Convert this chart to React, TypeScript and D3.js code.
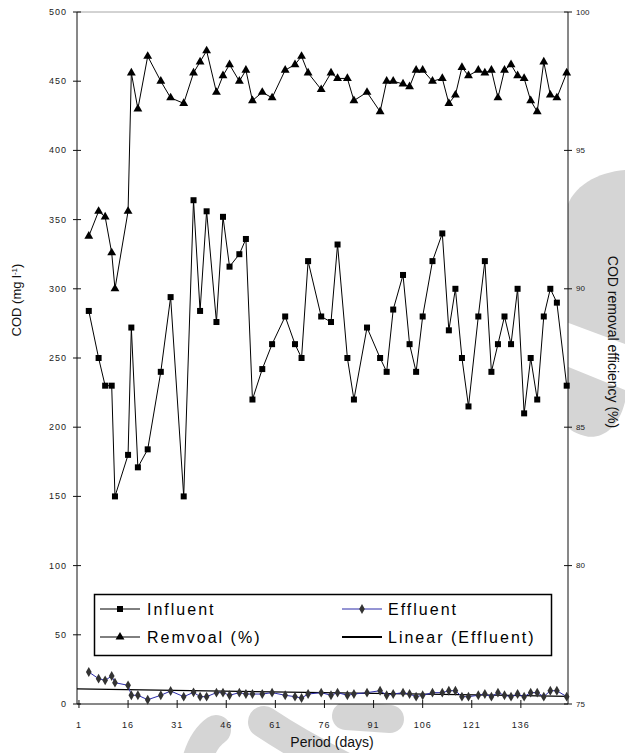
import React from "react";
import * as d3 from "d3";

const days = [4, 7, 9, 11, 12, 16, 17, 19, 22, 26, 29, 33, 36, 38, 40, 43, 45, 47, 50, 52,
  54, 57, 60, 64, 67, 69, 71, 75, 78, 80, 83, 85, 89, 93, 95, 97, 100, 102, 104, 106,
  109, 112, 114, 116, 118, 120, 123, 125, 127, 129, 131, 133, 135, 137, 139, 141, 143, 145, 147, 150];

const influent = [284, 250, 230, 230, 150, 180, 272, 171, 184, 240, 294, 150, 364, 284, 356, 276, 352, 316, 325, 336,
  220, 242, 260, 280, 260, 250, 320, 280, 276, 332, 250, 220, 272, 250, 240, 285, 310, 260, 240, 280,
  320, 340, 270, 300, 250, 215, 280, 320, 240, 260, 280, 260, 300, 210, 250, 220, 280, 300, 290, 230];

const effluent = [23.1, 18.3, 17.1, 20.2, 15.4, 13.5, 6.3, 6.3, 3.1, 6.3, 9.4, 5.3, 8.4, 5.3, 5.3, 8.2, 8.2, 6.3, 8.2, 7.2,
  7.2, 7.2, 8.2, 6.3, 5.3, 4.3, 7.2, 8.2, 6.3, 8.2, 6.3, 7.2, 8.2, 9.6, 6.3, 7.2, 8.2, 7.2, 5.3, 6.3,
  8.2, 8.2, 9.6, 9.6, 5.3, 5.3, 6.3, 7.2, 5.3, 8.2, 6.3, 5.3, 7.2, 5.3, 8.2, 8.2, 5.3, 9.6, 9.6, 5.3];

const removal = [91.9, 92.8, 92.6, 91.3, 90.0, 92.8, 97.8, 96.5, 98.4, 97.5, 96.9, 96.7, 97.8, 98.2, 98.6, 97.1, 97.7, 98.1, 97.5, 97.9,
  96.8, 97.1, 96.9, 97.9, 98.1, 98.4, 97.8, 97.2, 97.8, 97.6, 97.6, 96.8, 97.1, 96.4, 97.5, 97.5, 97.4, 97.3, 97.9, 97.9,
  97.5, 97.6, 96.7, 97.0, 98.0, 97.7, 97.9, 97.8, 97.9, 96.9, 97.9, 98.1, 97.7, 97.6, 96.8, 96.4, 98.2, 97.0, 96.9, 97.8];

const codTicks = [0, 50, 100, 150, 200, 250, 300, 350, 400, 450, 500];
const effTicks = [75, 80, 85, 90, 95, 100];
const dayTicks = [1, 16, 31, 46, 61, 76, 91, 106, 121, 136];

const W = 625;
const H = 753;
const plot = { left: 77, right: 568, top: 12, bottom: 704 };
const labelFont = "'Liberation Sans', Arial, sans-serif";
const narrowFont = "'Liberation Sans Narrow', 'Arial Narrow', 'Liberation Sans', sans-serif";
const blue = "#2a2aa8";
const wm = "#d5d5d5";

export default function App() {
  const x = d3.scaleLinear().domain([0.4, 150.4]).range([plot.left, plot.right]);
  const y = d3.scaleLinear().domain([0, 500]).range([plot.bottom, plot.top]);
  const y2 = d3.scaleLinear().domain([75, 100]).range([plot.bottom, plot.top]);

  const lineL = d3.line<number>().x((d, i) => x(days[i])).y(d => y(d));
  const lineR = d3.line<number>().x((d, i) => x(days[i])).y(d => y2(d));

  // linear trend of the effluent (least squares on day)
  const mx = d3.mean(days)!;
  const my = d3.mean(effluent)!;
  const slope = d3.sum(days, (d, i) => (d - mx) * (effluent[i] - my)) / d3.sum(days, d => (d - mx) ** 2);
  const icpt = my - slope * mx;
  const [x0, x1] = x.domain();

  const tri = d3.symbol(d3.symbolTriangle, 34)()!;
  const dia = d3.symbol(d3.symbolDiamond, 28)()!;

  const square = (cx: number, cy: number, k: string | number) => (
    <rect key={k} x={cx - 3} y={cy - 3} width={6} height={6} fill="#000" />
  );

  return (
    <svg width={W} height={H} style={{ position: "absolute", left: 0, top: 0, background: "#fff" }}>
      {/* faint watermark behind the figure */}
      <g fill={wm}>
        <path d="M566,210 C572,186 598,172 625,170 L625,344 L566,322 Z" />
        <path d="M566,366 L625,390 L625,402 C618,430 600,440 585,436 C573,433 566,428 566,420 Z" />
      </g>
      <g fill="none" stroke={wm} strokeLinecap="round">
        <path d="M194,775 Q199,742 216,730" strokeWidth={30} />
        <path d="M264,722 Q300,746 352,772" strokeWidth={32} />
        <path d="M346,716 L390,719" strokeWidth={28} />
      </g>
      <rect x={plot.left} y={plot.top} width={plot.right - plot.left} height={plot.bottom - plot.top} fill="#fff" />

      {/* frame */}
      <line x1={plot.left} x2={plot.right} y1={plot.top} y2={plot.top} stroke="#a6a6a6" />
      <line x1={plot.left} x2={plot.left} y1={plot.top} y2={plot.bottom} stroke="#111" />
      <line x1={plot.right} x2={plot.right} y1={plot.top} y2={plot.bottom} stroke="#111" />
      <line x1={plot.left} x2={plot.right} y1={plot.bottom} y2={plot.bottom} stroke="#111" />

      {/* left axis */}
      {codTicks.map(t => (
        <g key={"l" + t}>
          <line x1={plot.left - 4} x2={plot.left + 4} y1={y(t)} y2={y(t)} stroke="#111" />
          <text x={67} y={y(t)} textAnchor="end" dominantBaseline="central" fontSize={9}
            letterSpacing={1} fontFamily={labelFont} fill="#222">{t}</text>
        </g>
      ))}
      {/* right axis */}
      {effTicks.map(t => (
        <g key={"r" + t}>
          <line x1={plot.right - 4} x2={plot.right + 4} y1={y2(t)} y2={y2(t)} stroke="#111" />
          <text x={576} y={y2(t)} dominantBaseline="central" fontSize={8}
            fontFamily={labelFont} fill="#222">{t}</text>
        </g>
      ))}
      {/* bottom axis */}
      {dayTicks.map(t => (
        <g key={"b" + t}>
          <line x1={x(t)} x2={x(t)} y1={plot.bottom - 4} y2={plot.bottom + 4} stroke="#111" />
          <text x={x(t)} y={725} textAnchor="middle" dominantBaseline="central" fontSize={9}
            letterSpacing={1} fontFamily={labelFont} fill="#222">{t}</text>
        </g>
      ))}

      {/* axis titles */}
      <text transform="translate(21,300) rotate(-90)" textAnchor="middle" fontSize={13}
        fontFamily={narrowFont} fill="#111">
        COD (mg l<tspan dy={-4} fontSize={8}>-1</tspan><tspan dy={4}>)</tspan>
      </text>
      <text transform="translate(613,342) rotate(90)" textAnchor="middle" dominantBaseline="central"
        fontSize={14} fontFamily={labelFont} fill="#111">COD removal efficiency (%)</text>
      <text x={332} y={747} textAnchor="middle" fontSize={14} fontFamily={narrowFont} fill="#111">Period (days)</text>

      {/* effluent + trend */}
      <line x1={x(x0)} x2={x(x1)} y1={y(icpt + slope * x0)} y2={y(icpt + slope * x1)} stroke="#000" strokeWidth={1.3} />
      <path d={lineL(effluent)!} fill="none" stroke={blue} strokeWidth={1} />
      {effluent.map((v, i) => (
        <path key={"e" + i} d={dia} transform={`translate(${x(days[i])},${y(v)})`} fill="#333" />
      ))}

      {/* influent */}
      <path d={lineL(influent)!} fill="none" stroke="#000" strokeWidth={1} />
      {influent.map((v, i) => square(x(days[i]), y(v), "i" + i))}

      {/* removal */}
      <path d={lineR(removal)!} fill="none" stroke="#000" strokeWidth={1} />
      {removal.map((v, i) => (
        <path key={"r" + i} d={tri} transform={`translate(${x(days[i])},${y2(v)})`} fill="#000" />
      ))}

      {/* legend */}
      <g fontFamily={labelFont} fontSize={16} letterSpacing={2} fill="#000">
        <rect x={94.5} y={594.5} width={457} height={61} fill="#fff" stroke="#000" strokeWidth={1.5} />
        <line x1={100} x2={140} y1={609} y2={609} stroke="#000" />
        {square(120, 609, "ls")}
        <text x={147} y={609} dominantBaseline="central">Influent</text>
        <line x1={100} x2={140} y1={637} y2={637} stroke="#000" />
        <path d={tri} transform="translate(120,637)" fill="#000" />
        <text x={147} y={637} dominantBaseline="central">Remvoal (%)</text>
        <line x1={342} x2={382} y1={609} y2={609} stroke={blue} />
        <path d={dia} transform="translate(362,609)" fill="#333" />
        <text x={388} y={609} dominantBaseline="central">Effluent</text>
        <line x1={342} x2={382} y1={637} y2={637} stroke="#000" strokeWidth={2.2} />
        <text x={388} y={637} dominantBaseline="central">Linear (Effluent)</text>
      </g>
    </svg>
  );
}
